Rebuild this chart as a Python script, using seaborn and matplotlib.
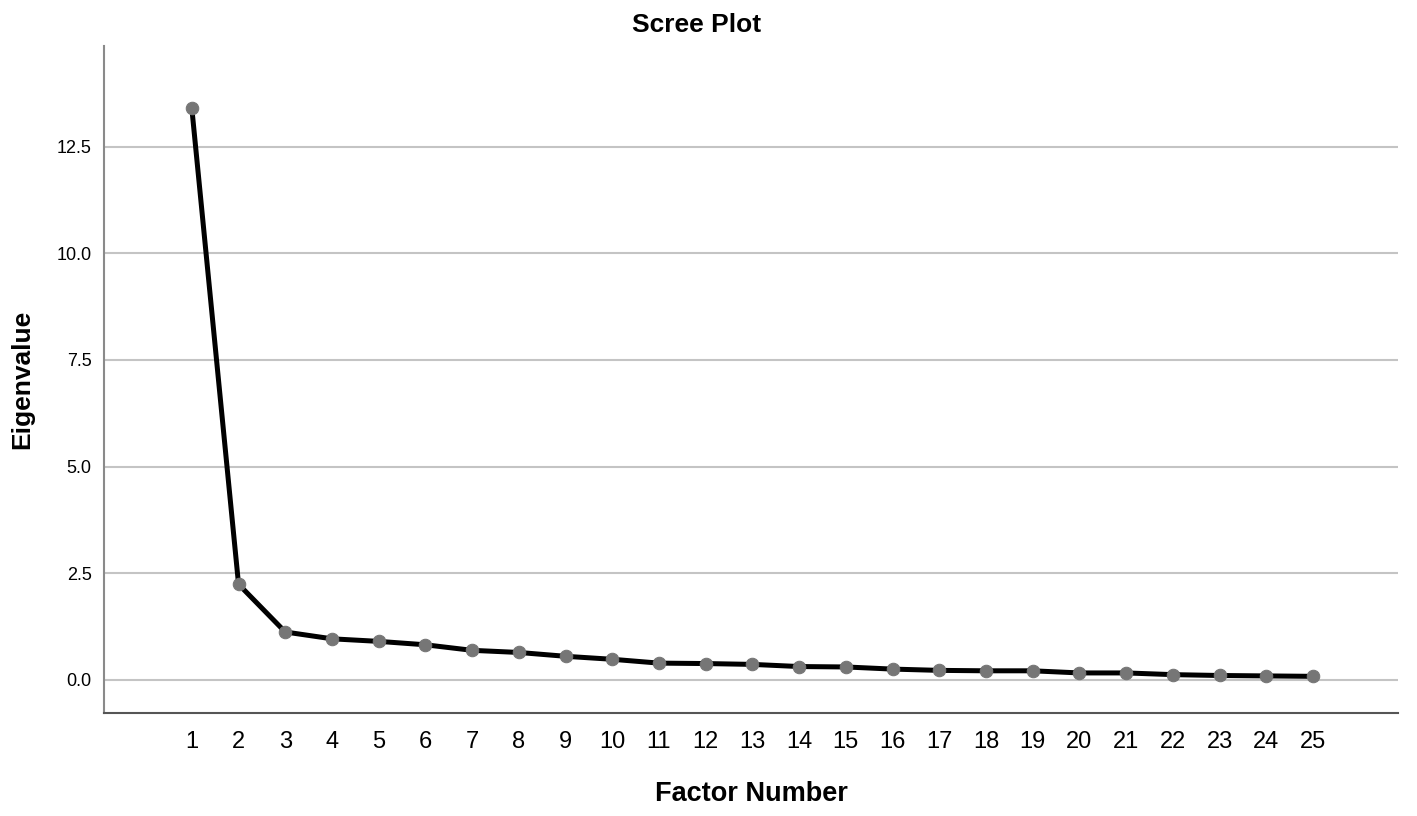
import numpy as np
import pandas as pd
import seaborn as sns
import matplotlib.pyplot as plt

# eigenvalues
factors = list(range(1, 26))
eigenvalues = [13.40, 2.24, 1.12, 0.96, 0.90, 0.82, 0.69, 0.64, 0.55, 0.48,
               0.39, 0.38, 0.36, 0.31, 0.30, 0.25, 0.22, 0.21, 0.21, 0.16,
               0.16, 0.12, 0.10, 0.09, 0.08]
y_ticks = [0.0, 2.5, 5.0, 7.5, 10.0, 12.5]

df = pd.DataFrame({"Factor Number": factors, "Eigenvalue": eigenvalues})

sns.set_style("white")
plt.rcParams['font.family'] = ['Liberation Sans', 'DejaVu Sans']
plt.rcParams['text.color'] = 'black'
plt.rcParams['xtick.color'] = 'black'
plt.rcParams['ytick.color'] = 'black'
plt.rcParams['axes.labelcolor'] = 'black'

fig = plt.figure(figsize=(14.17, 8.16), dpi=100)
ax = fig.add_axes([0.0734, 0.1262, 0.9132, 0.8174])

sns.lineplot(data=df, x="Factor Number", y="Eigenvalue", ax=ax,
             color="black", linewidth=3.6, marker="o", markersize=9,
             markerfacecolor="#767676", markeredgecolor="#767676", zorder=3)

ax.set_xlim(-0.88, 26.82)
ax.set_ylim(-0.78, 14.86)
ax.set_xticks(factors)
ax.set_xticklabels([str(f) for f in factors], fontsize=17)
ax.set_yticks(y_ticks)
ax.set_yticklabels([f"{v:.1f}" for v in y_ticks], fontsize=13)
ax.tick_params(axis="x", length=0, pad=13)
ax.tick_params(axis="y", length=0, pad=9)
ax.yaxis.grid(True, color="#c4c4c4", linewidth=1.5)
ax.set_axisbelow(True)

for s in ["top", "right"]:
    ax.spines[s].set_visible(False)
ax.spines["left"].set_color("#8a8a8a")
ax.spines["left"].set_linewidth(1.5)
ax.spines["bottom"].set_color("#555555")
ax.spines["bottom"].set_linewidth(1.5)

fig.text(697 / 1417, 1 - 25 / 816, "Scree Plot", fontsize=19, fontweight="bold",
         ha="center", va="center")
ax.set_xlabel("Factor Number", fontsize=19.5, fontweight="bold", labelpad=20)
ax.set_ylabel("Eigenvalue", fontsize=19, fontweight="bold", labelpad=16)

fig.savefig("out.png", dpi=100)
